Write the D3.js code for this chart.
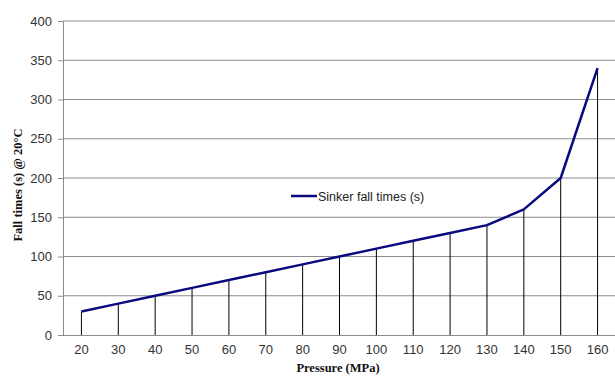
<!DOCTYPE html>
<html>
<head>
<meta charset="utf-8">
<script src="https://cdn.jsdelivr.net/npm/d3@7"></script>
<style>
  body { margin: 0; background: #fff; }
  svg { display: block; }
</style>
</head>
<body>
<svg id="chart" width="615" height="377"></svg>
<script>
// pressure (MPa) and fall times (s)
const pressures = [20, 30, 40, 50, 60, 70, 80, 90, 100, 110, 120, 130, 140, 150, 160];
const fallTimes = [30, 40, 50, 60, 70, 80, 90, 100, 110, 120, 130, 140, 160, 200, 340];
const yTicks = [0, 50, 100, 150, 200, 250, 300, 350, 400];
const seriesName = "Sinker fall times (s)";

const svg = d3.select("#chart");
const margin = { left: 63, right: -1, top: 21, bottom: 42 };
const width = 615, height = 377;

const x = d3.scaleBand()
  .domain(pressures)
  .range([margin.left, width - margin.right]);

const y = d3.scaleLinear()
  .domain([0, 400])
  .range([height - margin.bottom, margin.top]);

const cx = d => x(d) + x.bandwidth() / 2;

// gridlines
svg.append("g")
  .selectAll("line")
  .data(yTicks.slice(1))
  .enter().append("line")
  .attr("x1", margin.left).attr("x2", width)
  .attr("y1", d => y(d)).attr("y2", d => y(d))
  .attr("stroke", "#8c8c8c").attr("stroke-width", 1);

// y axis
const yAxis = svg.append("g")
  .attr("transform", `translate(${margin.left},0)`)
  .call(d3.axisLeft(y).tickValues(yTicks).tickSize(5).tickPadding(6));
yAxis.select(".domain").attr("stroke", "#8c8c8c");
yAxis.selectAll(".tick line").attr("stroke", "#8c8c8c");
yAxis.selectAll("text")
  .attr("font-family", "Liberation Sans, Arial, sans-serif")
  .attr("font-size", 13).attr("fill", "#333");

// x axis
const xAxis = svg.append("g")
  .attr("transform", `translate(0,${y(0)})`)
  .call(d3.axisBottom(x).tickSize(0).tickPadding(10));
xAxis.select(".domain").attr("stroke", "#8c8c8c").attr("d", `M${margin.left},0.5H${width}`);
xAxis.selectAll("text")
  .attr("font-family", "Liberation Sans, Arial, sans-serif")
  .attr("font-size", 13).attr("fill", "#333");

// drop lines
svg.append("g")
  .selectAll("line")
  .data(pressures)
  .enter().append("line")
  .attr("x1", d => cx(d)).attr("x2", d => cx(d))
  .attr("y1", (d, i) => y(fallTimes[i])).attr("y2", y(0))
  .attr("stroke", "#000").attr("stroke-width", 1);

// series line
const line = d3.line()
  .x((d, i) => cx(pressures[i]))
  .y(d => y(d));

svg.append("path")
  .datum(fallTimes)
  .attr("d", line)
  .attr("fill", "none")
  .attr("stroke", "#0a0a80")
  .attr("stroke-width", 2.5)
  .attr("stroke-linejoin", "round");

// legend
const lg = svg.append("g").attr("transform", "translate(291,196)");
lg.append("line").attr("x1", 0).attr("x2", 26).attr("y1", 0).attr("y2", 0)
  .attr("stroke", "#0a0a80").attr("stroke-width", 2.5);
lg.append("text").attr("x", 27).attr("y", 4.5)
  .attr("font-family", "Liberation Sans, Arial, sans-serif")
  .attr("font-size", 12.5).attr("fill", "#222")
  .text(seriesName);

// axis titles
svg.append("text")
  .attr("x", 338).attr("y", 372)
  .attr("text-anchor", "middle")
  .attr("font-family", "Liberation Serif, Times New Roman, serif")
  .attr("font-weight", "bold").attr("font-size", 12.5).attr("fill", "#111")
  .text("Pressure  (MPa)");

svg.append("text")
  .attr("transform", "translate(22,185) rotate(-90)")
  .attr("text-anchor", "middle")
  .attr("font-family", "Liberation Serif, Times New Roman, serif")
  .attr("font-weight", "bold").attr("font-size", 12.5).attr("fill", "#111")
  .text("Fall times (s) @ 20°C");
</script>
</body>
</html>
